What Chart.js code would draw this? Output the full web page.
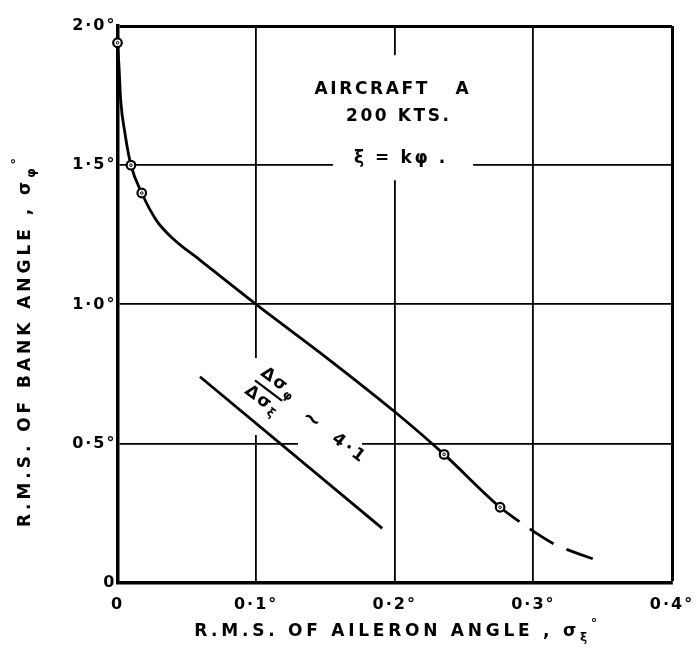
<!DOCTYPE html>
<html>
<head>
<meta charset="utf-8">
<script src="https://cdn.jsdelivr.net/npm/chart.js@4.4.1/dist/chart.umd.min.js"></script>
<style>
  html, body { margin: 0; padding: 0; background: #fff; }
  #wrap { width: 696px; height: 652px; }
</style>
</head>
<body>
<div id="wrap"><canvas id="c" width="696" height="652"></canvas></div>
<script>
// ---------------- data ----------------
const curveX = [0, 0.0011, 0.0023, 0.0054, 0.0097, 0.0175, 0.0283, 0.0403, 0.0595, 0.100, 0.153, 0.200, 0.2356, 0.276, 0.290];
const curveY = [1.94, 1.853, 1.734, 1.614, 1.50, 1.40, 1.300, 1.235, 1.159, 1.00, 0.80, 0.614, 0.461, 0.271, 0.219];
const pointX = [0, 0.0097, 0.0175, 0.2356, 0.276];
const pointY = [1.94, 1.50, 1.40, 0.461, 0.271];
const dashX = [0.290, 0.300, 0.315, 0.325, 0.344];
const dashY = [0.219, 0.185, 0.139, 0.118, 0.084];
const slopeX = [0.0595, 0.191];
const slopeY = [0.740, 0.195];
const xTickLabels = ['0', '0·1°', '0·2°', '0·3°', '0·4°'];
const yTickLabels = ['0', '0·5°', '1·0°', '1·5°', '2·0°'];
const noteTexts = ['AIRCRAFT   A', '200 KTS.', 'ξ = kφ .'];
const slopeValue = '4·1';

// ---------------- layout of annotations (data coordinates) ----------------
const notePos = [ {x: 0.1977, y: 1.770}, {x: 0.2020, y: 1.675}, {x: 0.2035, y: 1.522} ];
const slopeNotePos = {x: 0.1090, y: 0.690};
const gridGaps = [
  {axis: 'x', value: 0.2, from: 1.446, to: 1.895},
  {axis: 'y', value: 1.5, from: 0.1555, to: 0.2565},
  {axis: 'x', value: 0.1, from: 0.5305, to: 0.807},
  {axis: 'y', value: 0.5, from: 0.1302, to: 0.1764}
];

const FONT = '"DejaVu Sans", "Liberation Sans", sans-serif';
const toXY = (xs, ys) => xs.map((v, i) => ({x: v, y: ys[i]}));

function drawSpaced(ctx, parts, o) {
  ctx.save();
  ctx.letterSpacing = '0px';
  ctx.translate(o.x, o.y);
  if (o.rot) ctx.rotate(o.rot);
  ctx.textBaseline = 'middle';
  ctx.textAlign = 'left';
  ctx.fillStyle = '#000';
  const chars = [];
  parts.forEach(p => { for (const ch of p.t) chars.push({ch, font: 'bold ' + p.size + 'px ' + FONT, dy: p.dy || 0}); });
  let natural = 0;
  chars.forEach(c => { ctx.font = c.font; c.w = ctx.measureText(c.ch).width; natural += c.w; });
  const gaps = Math.max(chars.length - 1, 1);
  const ls = o.width != null ? (o.width - natural) / gaps : (o.ls || 0);
  const total = natural + ls * (chars.length - 1);
  let cx = o.align === 'center' ? -total / 2 : 0;
  chars.forEach(c => { ctx.font = c.font; ctx.fillText(c.ch, cx, c.dy); cx += c.w + ls; });
  ctx.restore();
}

const decor = {
  id: 'decor',
  beforeLayout(chart) { chart.ctx.letterSpacing = '2px'; },
  beforeDraw(chart) { chart.ctx.letterSpacing = '2px'; },
  beforeDatasetsDraw(chart) {
    const ctx = chart.ctx;
    const xs = chart.scales.x, ys = chart.scales.y;
    // blank the grid behind the lettering
    ctx.save();
    ctx.fillStyle = '#fff';
    gridGaps.forEach(g => {
      if (g.axis === 'x') {
        const px = xs.getPixelForValue(g.value);
        const a = ys.getPixelForValue(g.to), b = ys.getPixelForValue(g.from);
        ctx.fillRect(px - 3, a, 6, b - a);
      } else {
        const py = ys.getPixelForValue(g.value);
        const a = xs.getPixelForValue(g.from), b = xs.getPixelForValue(g.to);
        ctx.fillRect(a, py - 3, b - a, 6);
      }
    });
    ctx.restore();
    // notes
    noteTexts.forEach((t, i) => {
      drawSpaced(ctx, [{t, size: 17}], {x: xs.getPixelForValue(notePos[i].x), y: ys.getPixelForValue(notePos[i].y), ls: 2.6, align: 'center'});
    });
    // slope label
    const p0x = xs.getPixelForValue(slopeX[0]), p0y = ys.getPixelForValue(slopeY[0]);
    const p1x = xs.getPixelForValue(slopeX[1]), p1y = ys.getPixelForValue(slopeY[1]);
    const ang = Math.atan2(p1y - p0y, p1x - p0x) - 0.05;
    ctx.save();
    ctx.translate(xs.getPixelForValue(slopeNotePos.x), ys.getPixelForValue(slopeNotePos.y));
    ctx.rotate(ang);
    drawSpaced(ctx, [{t: 'Δσ', size: 17}, {t: 'φ', size: 12, dy: 5}], {x: 3, y: -12, ls: 2, align: 'center'});
    drawSpaced(ctx, [{t: 'Δσ', size: 17}, {t: 'ξ', size: 12, dy: 5}], {x: 0, y: 12, ls: 2, align: 'center'});
    ctx.strokeStyle = '#000';
    ctx.lineWidth = 2.2;
    ctx.beginPath(); ctx.moveTo(-17, 0); ctx.lineTo(17, 0); ctx.stroke();
    drawSpaced(ctx, [{t: '~', size: 22}], {x: 52, y: -2, align: 'center'});
    drawSpaced(ctx, [{t: slopeValue, size: 17}], {x: 98, y: -2, ls: 3, align: 'center'});
    ctx.restore();
  },
  afterDraw(chart) {
    const ctx = chart.ctx;
    const ca = chart.chartArea;
    drawSpaced(ctx, [{t: 'R.M.S. OF AILERON ANGLE , σ', size: 17}, {t: 'ξ', size: 12, dy: 6}, {t: '°', size: 13, dy: -8}],
      {x: (ca.left + ca.right) / 2 + 1, y: 631.5, width: 403, align: 'center'});
    drawSpaced(ctx, [{t: 'R.M.S. OF BANK ANGLE , σ', size: 17}, {t: 'φ', size: 12, dy: 6}, {t: '°', size: 13, dy: -9}],
      {x: 25.5, y: 342.5, rot: -Math.PI / 2, width: 369, align: 'center'});
  }
};

const edgeWidth = (c, last) => (c.index === last ? 3 : 1.8);

new Chart(document.getElementById('c'), {
  type: 'scatter',
  data: {
    datasets: [
      { data: toXY(pointX, pointY), showLine: false, pointRadius: 1.3, pointBorderWidth: 1, pointBackgroundColor: '#fff', pointBorderColor: '#000', clip: false },
      { data: toXY(pointX, pointY), showLine: false, pointRadius: 4.3, pointBorderWidth: 2.2, pointBackgroundColor: '#fff', pointBorderColor: '#000', clip: false },
      { data: toXY(curveX, curveY), showLine: true, borderColor: '#000', borderWidth: 2.8, pointRadius: 0, cubicInterpolationMode: 'monotone', clip: false },
      { data: toXY(dashX, dashY), showLine: true, borderColor: '#000', borderWidth: 2.8, pointRadius: 0, cubicInterpolationMode: 'monotone', borderDash: [28, 14], borderDashOffset: 29.5, clip: false },
      { data: toXY(slopeX, slopeY), showLine: true, borderColor: '#000', borderWidth: 2.8, pointRadius: 0, clip: false }
    ]
  },
  options: {
    responsive: false,
    animation: false,
    devicePixelRatio: 1,
    layout: { padding: { top: 26, right: 24, left: 0, bottom: 0 } },
    plugins: { legend: { display: false }, tooltip: { enabled: false } },
    scales: {
      x: {
        type: 'linear', min: 0, max: 0.4,
        afterFit: s => { s.height = 69.3; s.paddingLeft = 0; s.paddingRight = 0; },
        ticks: { stepSize: 0.1, autoSkip: false, maxRotation: 0, padding: 13, color: '#000',
                 font: { family: FONT, size: 16, weight: 'bold' },
                 callback: (v, i) => xTickLabels[i] },
        grid: { color: '#000', lineWidth: c => edgeWidth(c, 4), drawTicks: false },
        border: { display: true, color: '#000', width: 3.5 }
      },
      y: {
        type: 'linear', min: 0, max: 2,
        afterFit: s => { s.width = 117.5; s.paddingTop = 0; s.paddingBottom = 0; },
        ticks: { stepSize: 0.5, autoSkip: false, padding: 1, color: '#000',
                 font: { family: FONT, size: 16, weight: 'bold' },
                 callback: (v, i) => yTickLabels[i] },
        grid: { color: '#000', lineWidth: c => edgeWidth(c, 4), drawTicks: false },
        border: { display: true, color: '#000', width: 3.5 }
      }
    }
  },
  plugins: [decor]
});
</script>
</body>
</html>
